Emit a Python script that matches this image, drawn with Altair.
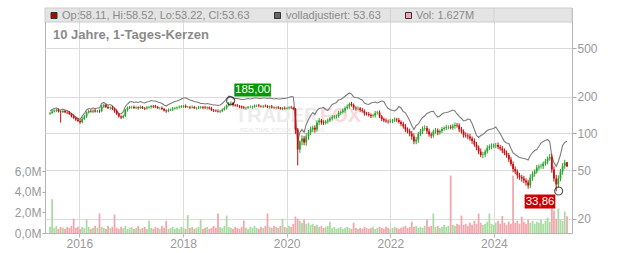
import altair as alt
import pandas as pd

# ---------------- data ----------------
start_date = "2015-06-08"
end_date = "2025-05-30"

close = [
    147.1, 151.3, 154.2, 155.6, 151.3, 149.9, 152.7, 149.3, 148.5, 144.4,
    139.1, 133.9, 130.2, 126.6, 123.8, 131.4, 137.8, 148.5, 152.7, 151.3,
    154.2, 151.3, 152.7, 152.1, 166.3, 171.0, 164.7, 161.6, 163.2, 158.6,
    152.7, 144.4, 137.8, 135.2, 139.1, 155.6, 161.6, 164.7, 164.7, 161.6,
    163.2, 161.6, 164.7, 161.6, 160.1, 163.2, 164.7, 167.8, 166.3, 164.7,
    161.6, 161.6, 158.6, 154.2, 152.1, 155.6, 157.1, 160.1, 161.6, 163.2,
    164.7, 167.2, 167.8, 164.7, 164.7, 163.2, 164.7, 161.6, 161.6, 163.2,
    164.7, 163.2, 161.6, 163.2, 160.1, 155.6, 154.2, 152.7, 151.3, 152.7,
    157.1, 161.6, 169.4, 175.5, 177.6, 171.0, 169.4, 167.8, 166.3, 163.2,
    161.6, 162.3, 164.7, 164.7, 165.4, 169.4, 169.4, 167.2, 166.3, 167.8,
    167.2, 164.7, 166.3, 163.2, 162.3, 163.2, 161.6, 160.1, 161.6, 160.1,
    161.6, 163.2, 162.3, 158.6, 107.8, 74.0, 86.0, 91.0, 84.4, 94.5,
    101.9, 107.8, 111.4, 107.8, 123.1, 127.8, 123.1, 122.0, 125.4, 127.8,
    132.7, 136.5, 137.8, 138.6, 147.1, 149.9, 154.2, 161.6, 166.3, 174.2,
    171.0, 162.3, 160.1, 160.1, 155.6, 152.7, 145.8, 144.4, 141.7, 139.1,
    140.4, 147.1, 148.5, 137.8, 131.4, 127.8, 126.1, 125.4, 126.6, 127.8,
    130.2, 129.0, 124.2, 119.6, 114.1, 107.8, 104.4, 100.0, 94.5, 86.0,
    89.3, 99.1, 103.8, 109.9, 111.0, 104.4, 98.1, 96.3, 103.8, 105.8,
    101.9, 104.8, 108.8, 111.0, 113.0, 113.0, 111.5, 115.2, 117.4, 116.3,
    107.8, 103.8, 97.2, 96.3, 94.5, 91.0, 86.8, 81.3, 76.8, 71.2,
    66.7, 67.3, 71.2, 76.4, 78.3, 79.0, 79.7, 80.5, 77.5, 75.4,
    72.6, 69.2, 66.7, 61.3, 56.3, 51.2, 48.9, 45.4, 44.1, 42.9,
    41.3, 39.8, 37.6, 43.7, 46.7, 48.9, 52.7, 53.7, 54.0, 56.8,
    59.0, 62.4, 64.2, 50.8, 42.9, 38.3, 42.9, 48.9, 54.2, 58.1,
    53.63,
]

# upper / lower wick length of each candle, in percent of its body edge
upper_wick_pct = [
    2, 3, 2, 2, 3, 2, 3, 2, 2, 3, 2, 3, 2, 3, 2, 4, 3, 2, 2, 3, 2, 3, 2, 3,
    3, 2, 2, 3, 2, 3, 2, 3, 2, 2, 3, 2, 3, 2, 2, 3, 2, 2, 3, 2, 2, 3, 2, 2,
    2, 3, 2, 2, 3, 2, 2, 3, 2, 3, 2, 2, 3, 2, 2, 3, 2, 2, 3, 2, 2, 3, 2, 2,
    3, 2, 2, 3, 2, 2, 3, 2, 2, 3, 2, 3, 3, 2, 2, 3, 2, 2, 3, 2, 2, 3, 2, 2,
    2, 3, 2, 2, 3, 2, 2, 3, 2, 2, 3, 2, 2, 3, 2, 2, 3, 2, 2, 3, 2, 6, 5, 7,
    5, 6, 4, 5, 4, 5, 3, 4, 3, 4, 3, 4, 3, 3, 4, 3, 4, 3, 4, 3, 4, 3, 3, 4,
    3, 4, 3, 3, 4, 3, 3, 4, 3, 4, 3, 3, 4, 3, 4, 3, 4, 3, 4, 3, 4, 5, 4, 5,
    5, 6, 5, 4, 5, 4, 5, 4, 5, 4, 4, 5, 4, 3, 4, 3, 4, 3, 4, 4, 5, 4, 4, 5,
    4, 5, 4, 5, 4, 5, 5, 4, 6, 5, 4, 5, 4, 5, 4, 4, 5, 4, 5, 4, 5, 4, 5, 5,
    5, 4, 5, 4, 5, 4, 5, 6, 5, 4, 5, 4, 5, 4, 5, 4, 6, 5, 6, 7, 6, 5, 6, 5, 0.7,
]
lower_wick_pct = [
    3, 2, 2, 3, 2, 18, 2, 2, 3, 2, 3, 2, 3, 2, 3, 2, 2, 3, 2, 2, 3, 2, 2, 3,
    2, 3, 2, 2, 3, 2, 3, 2, 2, 3, 2, 2, 3, 2, 3, 2, 2, 3, 2, 2, 3, 2, 2, 3,
    3, 2, 2, 3, 2, 2, 3, 2, 2, 3, 2, 3, 2, 2, 3, 2, 2, 3, 2, 2, 3, 2, 2, 3,
    2, 3, 2, 2, 3, 2, 2, 3, 2, 2, 3, 2, 2, 3, 2, 2, 3, 2, 2, 3, 2, 2, 3, 2,
    3, 2, 2, 3, 2, 2, 3, 2, 2, 3, 2, 2, 3, 2, 2, 3, 2, 2, 8, 26, 6, 7, 5, 6,
    6, 5, 5, 6, 4, 5, 4, 4, 3, 4, 3, 4, 3, 4, 3, 4, 3, 4, 3, 4, 3, 4, 4, 3,
    4, 3, 4, 3, 3, 4, 3, 4, 3, 3, 4, 3, 3, 4, 3, 4, 3, 4, 3, 4, 4, 5, 4, 5,
    6, 5, 5, 6, 4, 5, 4, 5, 4, 5, 4, 4, 5, 4, 4, 3, 4, 4, 3, 4, 5, 4, 5, 4,
    5, 4, 5, 4, 5, 4, 5, 5, 4, 6, 5, 4, 4, 5, 4, 5, 4, 4, 5, 4, 5, 5, 4, 6,
    5, 6, 5, 6, 5, 6, 6, 5, 6, 5, 4, 5, 4, 5, 4, 5, 4, 6, 6, 12, 6, 5, 6, 5, 0.8,
]

adjusted = [
    152.7, 157.1, 160.1, 161.6, 157.1, 155.6, 158.6, 155.6, 154.2, 149.9,
    145.8, 140.4, 136.5, 132.7, 130.2, 139.1, 145.8, 155.6, 160.1, 158.6,
    161.6, 160.1, 161.6, 161.6, 175.9, 179.3, 174.2, 171.0, 172.6, 167.8,
    162.3, 154.2, 145.8, 144.4, 149.9, 166.3, 174.2, 181.0, 182.7, 179.3,
    181.0, 179.3, 182.7, 179.3, 177.6, 181.0, 182.7, 186.1, 184.4, 184.4,
    181.0, 179.3, 175.9, 171.0, 167.8, 172.6, 175.9, 179.3, 182.7, 184.4,
    187.9, 191.5, 195.1, 195.8, 191.5, 187.9, 186.1, 182.7, 181.0, 179.3,
    175.9, 175.9, 174.2, 175.9, 174.2, 172.6, 171.0, 171.0, 169.4, 171.0,
    175.9, 182.7, 193.3, 201.8, 200.7, 195.1, 193.3, 193.3, 191.5, 189.7,
    189.7, 191.5, 193.3, 191.5, 193.3, 195.1, 195.1, 193.3, 193.3, 195.1,
    195.1, 193.3, 195.1, 193.3, 191.5, 193.3, 191.5, 191.5, 193.3, 193.3,
    195.1, 197.0, 200.7, 198.8, 135.2, 84.4, 101.9, 107.8, 101.9, 118.5,
    130.2, 140.4, 148.5, 143.0, 154.2, 160.1, 161.6, 163.2, 157.1, 154.2,
    163.2, 172.6, 175.9, 179.3, 187.9, 189.7, 195.1, 201.8, 208.4, 214.4,
    210.4, 198.8, 197.0, 195.8, 191.5, 187.9, 177.6, 174.2, 172.6, 177.6,
    179.3, 181.0, 177.6, 181.0, 184.4, 182.7, 169.4, 160.1, 157.1, 154.2,
    153.0, 157.1, 166.3, 161.6, 151.3, 147.7, 137.8, 127.8, 116.3, 107.8,
    116.3, 119.6, 127.8, 135.2, 139.1, 145.8, 148.5, 151.3, 152.1, 143.0,
    136.5, 139.1, 144.4, 147.7, 148.5, 149.9, 152.7, 155.6, 152.7, 144.4,
    137.8, 132.7, 126.6, 127.8, 131.4, 130.2, 120.8, 107.8, 96.3, 92.7,
    96.3, 98.1, 101.9, 105.8, 107.8, 108.8, 109.9, 113.0, 105.8, 100.0,
    92.7, 86.0, 83.6, 82.8, 75.4, 69.5, 67.3, 65.4, 63.6, 63.0,
    62.4, 61.8, 60.7, 66.1, 69.9, 72.6, 74.0, 78.3, 83.6, 86.0,
    87.6, 89.3, 86.0, 65.2, 57.9, 54.0, 59.0, 67.3, 79.7, 84.4,
    86.3,
]

volume_m = [
    0.6, 3.3, 0.5, 0.7, 0.4, 0.6, 0.5, 0.4, 0.6, 0.5, 0.7, 1.4, 0.5, 0.6, 0.4, 0.6, 0.5, 1.3, 0.6, 0.4, 0.5, 0.7, 0.5, 1.9,
    0.6, 0.5, 0.4, 0.7, 0.5, 0.6, 1.8, 0.5, 0.4, 0.6, 0.5, 0.7, 0.4, 0.5, 0.6, 0.4, 0.5, 0.7, 0.4, 0.5, 0.6, 0.4, 1.2, 0.5,
    0.4, 0.6, 0.5, 0.4, 0.7, 0.5, 1.2, 0.4, 0.5, 0.6, 0.4, 0.5, 0.4, 0.6, 0.5, 0.4, 1.75, 0.5, 0.6, 0.4, 0.5, 0.6, 1.3, 0.4,
    0.5, 0.6, 0.4, 0.5, 0.7, 0.5, 1.9, 0.6, 0.5, 0.7, 1.7, 0.6, 0.5, 0.4, 0.6, 0.5, 0.4, 0.6, 1.2, 0.5, 0.4, 0.6, 0.5, 0.7,
    0.5, 0.4, 0.6, 0.5, 0.7, 1.9, 0.6, 0.5, 0.7, 0.6, 0.5, 0.7, 1.4, 0.6, 0.5, 0.7, 0.6, 0.9, 1.6, 1.4, 1.2, 1.0, 1.3, 0.9,
    1.0, 0.8, 0.9, 0.7, 0.8, 0.6, 0.7, 0.5, 0.6, 0.7, 1.1, 0.5, 0.6, 0.4, 0.5, 0.6, 0.4, 0.5, 0.6, 0.5, 0.4, 1.0, 0.5, 0.4,
    0.5, 0.4, 0.6, 0.5, 0.4, 0.5, 0.6, 0.4, 0.5, 0.6, 0.5, 0.4, 0.6, 0.5, 0.4, 0.5, 0.6, 0.5, 0.4, 0.5, 0.6, 0.7, 0.5, 0.6,
    1.1, 0.6, 0.7, 0.5, 0.6, 0.5, 0.7, 1.3, 0.6, 0.7, 1.9, 0.6, 0.7, 0.5, 0.6, 0.8, 0.6, 0.7, 5.6, 0.8, 0.7, 0.9, 0.8, 1.7,
    0.8, 0.9, 0.7, 1.0, 0.8, 1.2, 0.9, 1.9, 1.0, 0.8, 0.9, 1.1, 1.9, 0.9, 0.8, 1.0, 1.2, 0.9, 1.65, 1.0, 0.8, 1.1, 0.9, 5.6,
    1.0, 1.2, 0.9, 1.6, 1.1, 0.9, 1.3, 1.0, 1.2, 0.9, 1.1, 1.0, 1.3, 0.9, 1.2, 1.5, 1.1, 2.4, 2.2, 1.4, 2.4, 1.3, 1.2, 2.1, 1.627,
]
first_open = 146.0

year_ticks = [2016, 2018, 2020, 2022, 2024]
price_ticks = [20, 50, 100, 200, 500]
volume_ticks = [0, 2, 4, 6]

last_open, last_high, last_low, last_close = 58.11, 58.52, 53.22, 53.63
last_adjusted = 53.63
last_volume = "1.627M"
title_text = "10 Jahre, 1-Tages-Kerzen"

high_date, high_value, high_text = "2018-12-02", 185.00, "185,00"
low_date, low_value, low_text = "2025-04-01", 33.86, "33,86"

assert len(close) == len(adjusted) == len(volume_m) == 241
assert len(upper_wick_pct) == len(lower_wick_pct) == 241

# ---------------- frame ----------------
dates = pd.date_range(start_date, end_date, periods=len(close)).strftime("%Y-%m-%d")
opens = [first_open] + close[:-1]
highs = [max(o, c) * (1 + u / 100) for o, c, u in zip(opens, close, upper_wick_pct)]
lows = [min(o, c) * (1 - d / 100) for o, c, d in zip(opens, close, lower_wick_pct)]
df = pd.DataFrame({"date": dates, "open": opens, "close": close, "high": highs,
                   "low": lows, "adj": adjusted, "vol": volume_m})

FONT = "Liberation Sans"
W, H = 527, 225
GREEN, RED = "#2ea32e", "#c80f0f"
VGREEN, VRED = "#a9dba3", "#f2a7ae"
UP = "datum.close >= datum.open"

xscale = alt.Scale(domain=[alt.DateTime(year=2015, month=6, date=8),
                           alt.DateTime(year=2025, month=5, date=30)])
xaxis = alt.Axis(values=[alt.DateTime(year=y, month=1, date=1) for y in year_ticks],
                 format="%Y", title=None, grid=True, gridColor="#dcdcdc",
                 domain=False, tickColor="#bbbbbb", tickSize=4, labelPadding=1,
                 labelColor="#999999", labelFontSize=12, labelFont=FONT)
X = alt.X("date:T", scale=xscale, axis=xaxis)

yprice = alt.Scale(type="log", domain=[15.36, 1062])
price_axis = alt.Axis(orient="right", values=price_ticks, format="d", title=None,
                      grid=True, gridColor="#dcdcdc", domain=False,
                      tickColor="#aaaaaa", tickSize=4, labelPadding=1,
                      labelColor="#999999", labelFontSize=12, labelFont=FONT)

# ---------------- volume ----------------
vol = alt.Chart(df).mark_bar(size=1.8, clip=True).encode(
    x=X,
    y=alt.Y("vol:Q", scale=alt.Scale(domain=[0, 21.95]),
            axis=alt.Axis(orient="left", values=volume_ticks, title=None, grid=False,
                          domain=False, tickColor="#aaaaaa", tickSize=3, labelPadding=1,
                          labelColor="#999999", labelFontSize=12, labelFont=FONT,
                          labelExpr="replace(format(datum.value, '.1f'), '.', ',') + 'M'")),
    color=alt.condition(UP, alt.value(VGREEN), alt.value(VRED)),
)

# ---------------- price ----------------
base = alt.Chart(df)
adj_line = base.mark_line(color="#7c7c7c", strokeWidth=1.1, clip=True).encode(
    x=X, y=alt.Y("adj:Q", scale=yprice, axis=price_axis))
wicks = base.mark_rule(strokeWidth=1, clip=True).encode(
    x=X, y=alt.Y("low:Q", scale=yprice, axis=price_axis), y2="high:Q",
    color=alt.condition(UP, alt.value(GREEN), alt.value(RED)))
candles = base.mark_bar(size=1.8, clip=True).encode(
    x=X, y=alt.Y("open:Q", scale=yprice, axis=price_axis), y2="close:Q",
    color=alt.condition(UP, alt.value(GREEN), alt.value(RED)))

hi_df = pd.DataFrame({"date": [high_date], "value": [high_value], "label": [high_text]})
lo_df = pd.DataFrame({"date": [low_date], "value": [low_value], "label": [low_text]})
ext_df = pd.concat([hi_df, lo_df])

circles = alt.Chart(ext_df).mark_point(shape="circle", size=64, filled=False,
                                       color="#111111", strokeWidth=1.2).encode(
    x=X, y=alt.Y("value:Q", scale=yprice, axis=price_axis))

hi_box = alt.Chart(hi_df).mark_rect(color="#009a00", xOffset=3.7, x2Offset=40.3,
                                    yOffset=-17.3, y2Offset=-4.3).encode(
    x=X, x2="date:T", y=alt.Y("value:Q", scale=yprice, axis=price_axis), y2="value:Q")
hi_lab = alt.Chart(hi_df).mark_text(color="white", font=FONT, fontSize=11.5,
                                    dx=22, dy=-10.8, align="center", baseline="middle").encode(
    x=X, y=alt.Y("value:Q", scale=yprice, axis=price_axis), text="label:N")
lo_box = alt.Chart(lo_df).mark_rect(color="#cc0000", xOffset=-34, x2Offset=-3.3,
                                    yOffset=3.5, y2Offset=17.5).encode(
    x=X, x2="date:T", y=alt.Y("value:Q", scale=yprice, axis=price_axis), y2="value:Q")
lo_lab = alt.Chart(lo_df).mark_text(color="white", font=FONT, fontSize=11.5,
                                    dx=-18.6, dy=10.5, align="center", baseline="middle").encode(
    x=X, y=alt.Y("value:Q", scale=yprice, axis=price_axis), text="label:N")

# ---------------- watermark ----------------
one = pd.DataFrame({"a": [0]})
wm1 = alt.Chart(one).mark_text(text="TRADER", font=FONT, fontSize=20, fontWeight="bold",
                               color="#ececec", align="left", baseline="alphabetic").encode(
    x=alt.value(190), y=alt.value(114))
wm2 = alt.Chart(one).mark_text(text="FOX", font=FONT, fontSize=20, fontWeight="bold",
                               color="#fadada", align="left", baseline="alphabetic").encode(
    x=alt.value(275), y=alt.value(114))
wm3 = alt.Chart(one).mark_text(text="REALTIME STOCK CHARTING", font=FONT, fontSize=6,
                               color="#e8e8e8", align="left", baseline="alphabetic").encode(
    x=alt.value(195), y=alt.value(124))

# ---------------- header ----------------
band = alt.Chart(one).mark_rect(fill="#e4e4e4", stroke="#cccccc", strokeWidth=1).encode(
    x=alt.value(0), x2=alt.value(W), y=alt.value(0), y2=alt.value(14))
years_df = pd.DataFrame({"date": [f"{y}-01-01" for y in year_ticks]})
band_rules = alt.Chart(years_df).mark_rule(color="#d0d0d0").encode(
    x=X, y=alt.value(0), y2=alt.value(14))

def square(x0, fill):
    return alt.Chart(one).mark_rect(fill=fill, stroke="#333333", strokeWidth=1).encode(
        x=alt.value(x0), x2=alt.value(x0 + 6), y=alt.value(4.5), y2=alt.value(10.5))

def label(x0, txt):
    return alt.Chart(one).mark_text(text=txt, font=FONT, fontSize=11, color="#8a8a8a",
                                    align="left", baseline="middle").encode(
        x=alt.value(x0), y=alt.value(7.8))

legend = [
    square(6, "#b00000"),
    label(17, f"Op:{last_open:.2f}, Hi:{last_high:.2f}, Lo:{last_low:.2f}, Cl:{last_close:.2f}"),
    square(229.5, "#666666"),
    label(241, f"volladjustiert: {last_adjusted:.2f}"),
    square(360.5, "#f4a7b0"),
    label(371, f"Vol: {last_volume}"),
]
title = alt.Chart(one).mark_text(text=title_text, font=FONT, fontSize=13, fontWeight="bold",
                                 color="#8a8a8a", align="left", baseline="alphabetic").encode(
    x=alt.value(8), y=alt.value(30.5))

price_group = alt.layer(wm1, wm2, wm3, adj_line, wicks, candles, circles,
                        hi_box, hi_lab, lo_box, lo_lab,
                        band, band_rules, *legend, title)

chart = alt.layer(vol, price_group).resolve_scale(y="independent").properties(
    width=W, height=H,
    padding={"left": 45, "top": 8, "right": 60, "bottom": 20},
    autosize=alt.AutoSizeParams(type="none"),
    background="white",
).configure_view(stroke="#b5b5b5", strokeWidth=1)

chart.save("out.html", embed_options={"renderer": "svg", "actions": False})
